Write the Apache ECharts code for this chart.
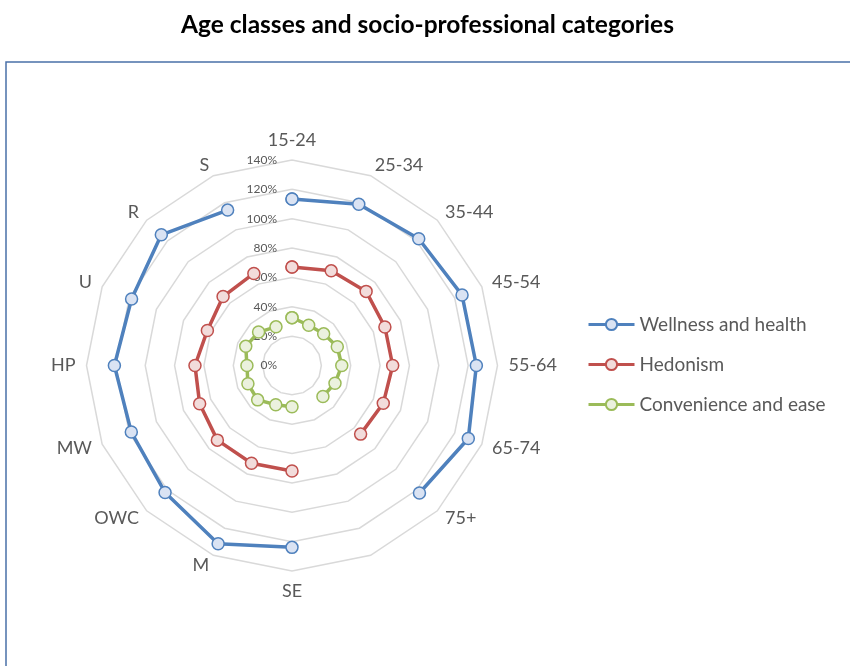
<!DOCTYPE html>
<html><head><meta charset="utf-8">
<script src="https://cdn.jsdelivr.net/npm/echarts@6/dist/echarts.min.js"></script>
<style>html,body{margin:0;padding:0;background:#fff}#c{width:850px;height:666px}</style>
</head><body><div id="c"></div>
<script>
const categories = ['15-24','25-34','35-44','45-54','55-64','65-74','75+','','SE','M','OWC','MW','HP','U','R','S'];
const wellness    = [113.4,118.9,122.1,125.4,125.6,130.0,122.8,null,123.9,131.5,122.3,118.5,121.0,118.3,125.9,114.6];
const hedonism    = [67.1,69.8,71.4,68.5,68.6,67.3,66.1,null,71.9,72.1,71.9,68.1,66.1,62.4,66.4,67.9];
const convenience = [32.6,29.7,30.5,33.4,33.9,31.7,29.8,null,28.1,28.9,33.1,32.5,30.7,34.1,32.2,28.5];
const radialMin = 0, radialMax = 140, radialStep = 20;
const seriesNames = ['Wellness and health','Hedonism','Convenience and ease'];
const lineColors = ['#4f81bd','#c0504d','#9bbb59'];
const fillColors = ['#dae3f3','#f2dcdb','#ebf1de'];

const CX = 292, CY = 365.5, R = 205.5;
const FONT = 'Lato, "Open Sans", sans-serif';

// radar draws counter-clockwise: reorder indicators so categories run clockwise
const order = [0].concat(categories.map((_, i) => i).slice(1).reverse());
const indicators = order.map((k, j) => ({
  name: categories[k], min: radialMin, max: radialMax,
  axisLabel: j === 0 ? { show: true } : { show: false }
}));

function toPolar(vals) {
  const d = vals.map((v, i) => [v == null ? '-' : v, i]);
  d.push([vals[0], 0]);
  return d;
}

const chart = echarts.init(document.getElementById('c'), null, { renderer: 'canvas' });
chart.setOption({
  animation: false,
  backgroundColor: '#fff',
  title: {
    text: 'Age classes and socio-professional categories',
    left: 176, top: 8,
    textStyle: { fontFamily: FONT, fontSize: 24.5, fontWeight: 'bold', color: '#000' }
  },
  graphic: [{
    type: 'rect', silent: true, z: -1,
    shape: { x: 6, y: 62, width: 900, height: 700 },
    style: { fill: null, stroke: '#4a70a8', lineWidth: 1.5 }
  }],
  legend: {
    orient: 'vertical', left: 582, top: 310,
    itemWidth: 46, itemHeight: 14, itemGap: 21,
    data: seriesNames,
    lineStyle: { width: 3 },
    textStyle: { fontFamily: FONT, fontSize: 19, color: '#595959' }
  },
  radar: {
    center: [CX, CY], radius: R, startAngle: 90,
    shape: 'polygon', splitNumber: (radialMax - radialMin) / radialStep,
    indicator: indicators,
    axisName: { color: '#595959', fontSize: 18, fontFamily: FONT },
    nameGap: 11,
    axisLine: { show: false },
    axisTick: { show: false },
    splitArea: { show: false },
    splitLine: { lineStyle: { color: '#d9d9d9', width: 1.5 } },
    axisLabel: { show: false, margin: 15, formatter: '{value}%', color: '#595959', fontSize: 12, fontFamily: FONT }
  },
  polar: { center: [CX, CY], radius: R },
  angleAxis: { type: 'category', data: categories, startAngle: 90, clockwise: true, boundaryGap: false, show: false },
  radiusAxis: { type: 'value', min: radialMin, max: radialMax, show: false },
  series: [wellness, hedonism, convenience].map((vals, s) => ({
    name: seriesNames[s], type: 'line', coordinateSystem: 'polar',
    data: toPolar(vals), connectNulls: false,
    symbol: 'circle', symbolSize: 12, showAllSymbol: true,
    lineStyle: { color: lineColors[s], width: 3.5 },
    itemStyle: { color: fillColors[s], borderColor: lineColors[s], borderWidth: 1.5 },
    z: 3 + s
  }))
});
</script></body></html>
